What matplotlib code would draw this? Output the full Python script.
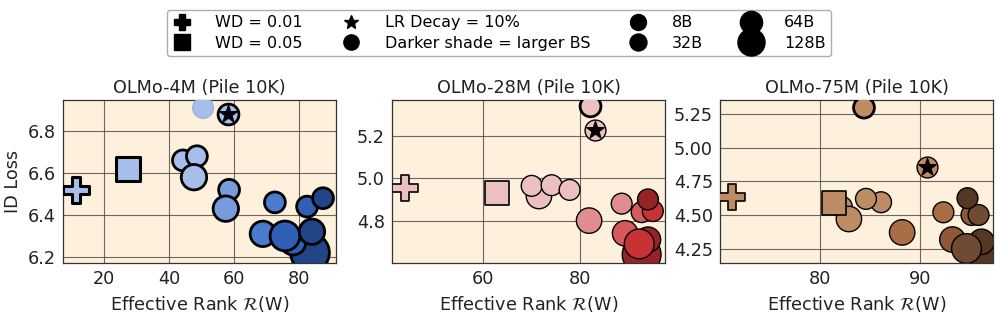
import matplotlib.pyplot as plt
from matplotlib.lines import Line2D

# ---- data ------------------------------------------------------------------
titles = ['OLMo-4M (Pile 10K)', 'OLMo-28M (Pile 10K)', 'OLMo-75M (Pile 10K)']

# circles: effective rank, ID loss, shade index (batch size), tokens (B)
rank_4m = [50.5, 44.3, 48.6, 47.7, 58.5, 57.5, 72.6, 82.5, 87.4, 83.4, 78.2, 68.9, 75.7, 84.0]
loss_4m = [6.91, 6.66, 6.68, 6.58, 6.52, 6.43, 6.46, 6.44, 6.48, 6.22, 6.27, 6.31, 6.30, 6.32]
shade_4m = [0, 0, 0, 0, 1, 1, 2, 3, 4, 4, 3, 2, 3, 4]
tokens_4m = [8, 8, 8, 32, 8, 32, 8, 8, 8, 128, 32, 32, 64, 32]

rank_28m = [82.2, 71.6, 70.1, 74.2, 77.9, 81.9, 88.6, 92.7, 95.0, 94.0, 92.7, 89.3, 94.0, 92.2]
loss_28m = [5.339, 4.916, 4.964, 4.967, 4.945, 4.80, 4.88, 4.84, 4.845, 4.90, 4.64, 4.74, 4.71, 4.69]
shade_28m = [0, 0, 0, 0, 0, 1, 1, 2, 3, 4, 4, 2, 4, 3]
tokens_28m = [8, 32, 8, 8, 8, 32, 8, 8, 8, 8, 128, 32, 32, 64]

rank_75m = [84.4, 82.2, 82.9, 86.1, 84.6, 88.2, 92.3, 95.1, 95.8, 94.7, 96.3, 93.2, 96.1, 94.6]
loss_75m = [5.30, 4.56, 4.47, 4.595, 4.62, 4.37, 4.52, 4.50, 4.50, 4.625, 4.19, 4.317, 4.30, 4.25]
shade_75m = [0, 0, 0, 0, 0, 1, 1, 2, 3, 4, 4, 2, 4, 3]
tokens_75m = [8, 8, 32, 8, 8, 32, 8, 8, 8, 8, 128, 32, 32, 64]

# special runs: (rank, loss)
wd01 = [(11.4, 6.52), (44.0, 4.956), (71.3, 4.633)]
wd05 = [(27.4, 6.62), (62.9, 4.93), (81.4, 4.588)]
lr_decay = [(58.2, 6.88), (83.1, 5.228), (90.7, 4.855)]

# ---- styling ----------------------------------------------------------------
palettes = [
    ['#a6bee9', '#7a9bdb', '#4a7bcf', '#2f60b5', '#204687'],
    ['#ecbfc1', '#e18c91', '#d45a5c', '#c83234', '#962326'],
    ['#be8c64', '#aa6e46', '#8c5a37', '#6e4b32', '#553723'],
]
size_of = {8: 225, 32: 335, 64: 460, 128: 780}
edge_w = [2.0, 1.0, 1.0]
xlims = [(7.4, 91.4), (41.4, 97.5), (70.07, 97.24)]
ylims = [(6.171, 6.948), (4.60, 5.369), (4.142, 5.357)]
xticks = [[20, 40, 60, 80], [60, 80], [80, 90]]
yticks = [[6.2, 6.4, 6.6, 6.8], [4.8, 5.0, 5.2], [4.25, 4.50, 4.75, 5.00, 5.25]]
lefts = [63, 392, 720]

ranks = [rank_4m, rank_28m, rank_75m]
losses = [loss_4m, loss_28m, loss_75m]
shades = [shade_4m, shade_28m, shade_75m]
tokens = [tokens_4m, tokens_28m, tokens_75m]

FS = 12.7
fig = plt.figure(figsize=(9.96, 3.17), dpi=100)

for i in range(3):
    ax = fig.add_axes([lefts[i] / 996, 1 - 263 / 317, 273 / 996, 163 / 317])
    ax.set_facecolor('#fdf0dc')
    ax.set_axisbelow(True)
    ax.grid(True, color='#4d443d', linewidth=0.8, alpha=0.8)
    for sp in ax.spines.values():
        sp.set_color('#333333')
        sp.set_linewidth(0.9)

    pal = palettes[i]
    cols = [pal[s] for s in shades[i]]
    sizes = [size_of[t] for t in tokens[i]]
    lws = [edge_w[i]] * len(cols)
    ecs = ['black'] * len(cols)
    if i == 0:
        # first run drawn without a dark outline
        lws[0] = 0.8
        ecs[0] = '#9aaed0'
    else:
        lws[0] = 2.0
    ax.scatter(ranks[i], losses[i], s=sizes, c=cols, edgecolors=ecs,
               linewidths=lws, zorder=3)

    ax.scatter(*wd01[i], marker='P', s=330, color=pal[0], edgecolors='black',
               linewidths=edge_w[i] + 0.2, zorder=4)
    ax.scatter(*wd05[i], marker='s', s=280, color=pal[0], edgecolors='black',
               linewidths=edge_w[i] + 0.2, zorder=4)
    ax.scatter(*lr_decay[i], marker='o', s=size_of[8], color=pal[0],
               edgecolors='black', linewidths=edge_w[i], zorder=4)
    ax.scatter(*lr_decay[i], marker='*', s=170, color='black', zorder=5)

    ax.set_xlim(*xlims[i])
    ax.set_ylim(*ylims[i])
    ax.set_xticks(xticks[i])
    ax.set_yticks(yticks[i])
    ax.tick_params(length=0, labelsize=FS, colors='#222222', pad=5)
    ax.set_title(titles[i], fontsize=FS, color='#222222', pad=5)
    ax.set_xlabel(r'Effective Rank $\mathcal{R}$(W)', fontsize=FS, color='#222222')
    if i == 0:
        ax.set_ylabel('ID Loss', fontsize=FS, color='#222222')

handles = [
    Line2D([], [], ls='', marker='P', color='black', markersize=12),
    Line2D([], [], ls='', marker='s', color='black', markersize=12),
    Line2D([], [], ls='', marker='*', color='black', markersize=10),
    Line2D([], [], ls='', marker='o', color='black', markersize=11),
    Line2D([], [], ls='', marker='o', color='black', markersize=11.5),
    Line2D([], [], ls='', marker='o', color='black', markersize=12.2),
    Line2D([], [], ls='', marker='o', color='black', markersize=16),
    Line2D([], [], ls='', marker='o', color='black', markersize=19.5),
]
labels = ['WD = 0.01', 'WD = 0.05', 'LR Decay = 10%', 'Darker shade = larger BS',
          '8B', '32B', '64B', '128B']
fig.legend(handles, labels, ncol=4, loc='upper center', bbox_to_anchor=(0.501, 0.995),
           fontsize=11.5, handlelength=1.2, handletextpad=1.5, columnspacing=2.4,
           labelspacing=0.35, borderpad=0.35, frameon=True, edgecolor='#999999',
           fancybox=True)

fig.savefig('out.png', dpi=100)
